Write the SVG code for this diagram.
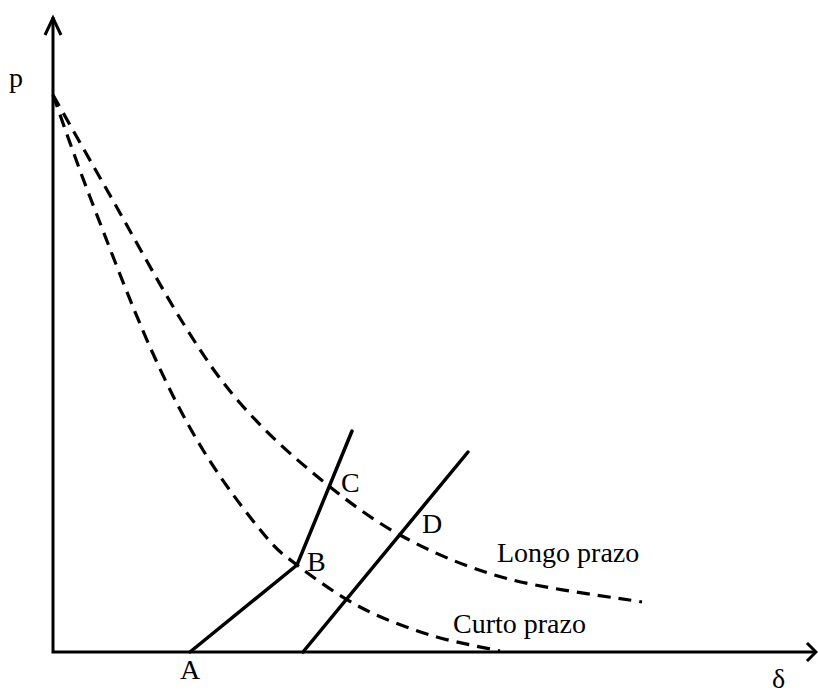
<svg xmlns="http://www.w3.org/2000/svg" width="818" height="695" viewBox="0 0 818 695">
<style>
.ax{fill:none;stroke:#000;stroke-width:3}
.sol{fill:none;stroke:#000;stroke-width:3.5;stroke-linecap:round}
.dash{fill:none;stroke:#000;stroke-width:3.2;stroke-dasharray:13 8}
text{font-family:"Liberation Serif","Times New Roman",serif;font-size:28px;fill:#000}
</style>
<rect width="818" height="695" fill="#fff"/>
<g id="axes">
<path class="ax" d="M53,17 V652 H816"/>
<path class="ax" stroke-width="2" d="M45,35 L53,18 L61,35"/>
<path class="ax" stroke-width="2" d="M807,643 L816,652 L807,661"/>
<text x="9" y="87">p</text>
<text x="772" y="688">δ</text>
</g>
<g id="connectors">
<path id="longo" class="dash" d="M53,95 C62,110.8 85.3,152 107,190 C128.7,228 160.8,287.5 183,323 C205.2,358.5 218.3,378 240,403 C261.7,428 286.3,451 313,473 C339.7,495 368,517.5 400,535 C432,552.5 464.7,566.8 505,578 C545.3,589.2 619.2,598 642,602"/>
<path id="curto" class="dash" d="M53,95 C59.2,112 73.8,155 90,197 C106.2,239 131.2,304.8 150,347 C168.8,389.2 184.3,419.2 203,450 C221.7,480.8 246.3,512.8 262,532 C277.7,551.2 280.7,552.5 297,565 C313.3,577.5 337.8,595.3 360,607 C382.2,618.7 406.7,627.7 430,635 C453.3,642.3 488.3,648.3 500,651"/>
<path class="sol" d="M190,652 L297,565 L352,431"/>
<path class="sol" stroke-width="3" d="M303,652 L468,452"/>
</g>
<g id="labels">
<text x="180" y="679">A</text>
<text x="307" y="571">B</text>
<text x="341" y="492">C</text>
<text x="422" y="533">D</text>
<text x="497" y="562">Longo prazo</text>
<text x="453" y="633">Curto prazo</text>
</g>
</svg>
